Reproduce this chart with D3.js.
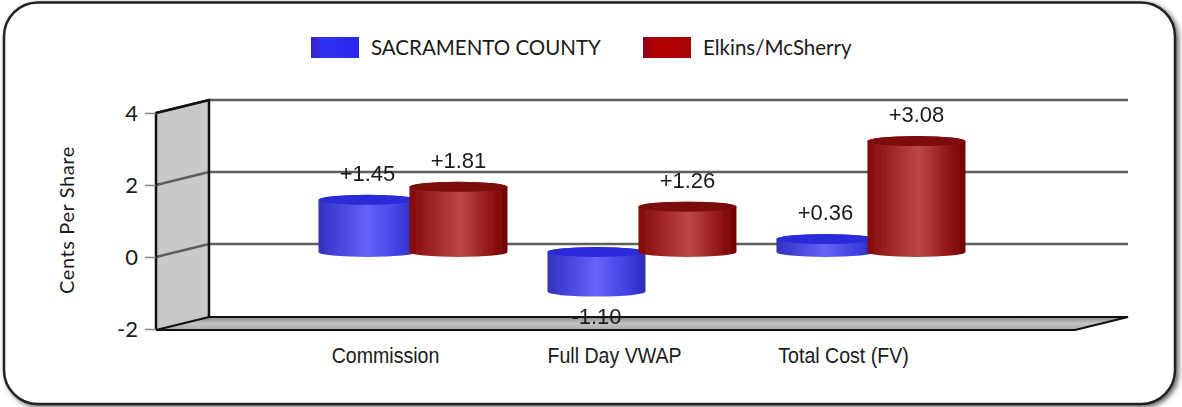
<!DOCTYPE html>
<html>
<head>
<meta charset="utf-8">
<script src="https://cdn.jsdelivr.net/npm/d3@7"></script>
<style>
  html, body { margin: 0; padding: 0; background: #fff; overflow: hidden; }
  text { fill: #1a1a1a; }
  .geo { font-family: Lato, "Open Sans", sans-serif; }
  .arial { font-family: "Liberation Sans", Arial, sans-serif; }
</style>
</head>
<body>
<svg id="chart" width="1182" height="407"></svg>
<script>
// Values
const categories = ['Commission', 'Full Day VWAP', 'Total Cost (FV)'];
const seriesNames = ['SACRAMENTO COUNTY', 'Elkins/McSherry'];
const sacramento = [1.45, -1.10, 0.36];
const elkins = [1.81, 1.26, 3.08];
const yTicks = [-2, 0, 2, 4];

// Reused constants for the fake 3d look
const depthX = 53;
const depthY = -13;
const barW = 98;
const ry = 5;
const floorY = 330;
const frontX = 156;
const rightX = 1128;

const svg = d3.select('#chart');
const defs = svg.append('defs');

const y = d3.scaleLinear().domain([-2, 4]).range([floorY - 1, 113]);
const x0 = d3.scaleBand().domain(categories)
  .range([299, 986]).paddingInner(0.17).paddingOuter(0.085);
const x1 = d3.scalePoint().domain(seriesNames).range([0, 91]);

const makeGradient = (id, stops, vertical) => {
  const g = defs.append('linearGradient').attr('id', id)
    .attr('x1', 0).attr('y1', 0)
    .attr('x2', vertical ? 0 : 1).attr('y2', vertical ? 1 : 0);
  stops.forEach(s => g.append('stop').attr('offset', s[0]).attr('stop-color', s[1]));
};
makeGradient('blueBar', [[0, '#3434b0'], [0.08, '#3838cc'], [0.5, '#6464fa'], [0.85, '#3c3cdc'], [1, '#2c2cb4']]);
makeGradient('redBar', [[0, '#800a0a'], [0.18, '#9a1e1e'], [0.52, '#bb4848'], [0.82, '#941616'], [1, '#700000']]);
makeGradient('blueSwatch', [[0, '#3a20c8'], [0.25, '#3030f0'], [1, '#2828ee']]);
makeGradient('redSwatch', [[0, '#8a0020'], [0.25, '#b00000'], [1, '#a80404']]);
makeGradient('floorFill', [[0, '#8c8c8c'], [0.5, '#c4c4c4'], [1, '#a8a8a8']], true);

const shadow = defs.append('filter').attr('id', 'panelShadow')
  .attr('x', '-3%').attr('y', '-5%').attr('width', '106%').attr('height', '110%');
shadow.append('feDropShadow').attr('dx', 2.5).attr('dy', 2)
  .attr('stdDeviation', 2.5).attr('flood-color', '#444').attr('flood-opacity', 0.85);

// The source picture is a little soft, bars get a small blur
defs.append('filter').attr('id', 'soft')
  .append('feGaussianBlur').attr('stdDeviation', 0.6);

// Panel
svg.append('rect')
  .attr('x', 4).attr('y', 2.5).attr('width', 1171).attr('height', 401.5)
  .attr('rx', 34).attr('ry', 34)
  .attr('fill', '#fff').attr('stroke', '#222').attr('stroke-width', 2.5)
  .attr('filter', 'url(#panelShadow)');

// Left wall and floor
const backX = frontX + depthX;
const wall = [[frontX, y(4)], [backX, y(4) + depthY], [backX, floorY + depthY], [frontX, floorY]];
const floor = [[frontX, floorY], [backX, floorY + depthY], [rightX, floorY + depthY], [rightX - depthX, floorY]];
const linePts = d3.line();

svg.append('path').attr('d', linePts(wall) + 'Z').attr('fill', '#c9c9c9').attr('stroke', 'none');
svg.append('path').attr('d', linePts(floor) + 'Z').attr('fill', 'url(#floorFill)').attr('stroke', 'none');

// Grid lines, front edge to back wall and across
yTicks.filter(t => t > -2).forEach(t => {
  svg.append('path')
    .attr('d', linePts([[frontX, y(t)], [backX, y(t) + depthY], [rightX, y(t) + depthY]]))
    .attr('fill', 'none').attr('stroke', '#5e5e5e').attr('stroke-width', 2.4);
});

svg.append('path').attr('d', linePts([[frontX, floorY], [frontX, y(4)], [backX, y(4) + depthY], [backX, floorY + depthY]]))
  .attr('fill', 'none').attr('stroke', '#111').attr('stroke-width', 2.5);
svg.append('path').attr('d', linePts(floor) + 'Z')
  .attr('fill', 'none').attr('stroke', '#111').attr('stroke-width', 2.2);

// Y axis
const yAxis = svg.append('g')
  .attr('transform', `translate(${frontX},0)`)
  .call(d3.axisLeft(y).tickValues(yTicks).tickFormat(String).tickSize(11).tickPadding(7));
yAxis.select('.domain').remove();
yAxis.selectAll('.tick line').attr('stroke', '#888').attr('stroke-width', 1.5);
yAxis.selectAll('.tick text').attr('font-size', 22).attr('font-family', 'Lato, sans-serif').attr('fill', '#1a1a1a');

svg.append('text').attr('class', 'geo')
  .attr('transform', 'translate(74,220) rotate(-90)')
  .attr('text-anchor', 'middle').attr('font-size', 20).attr('letter-spacing', 0.6)
  .text('Cents Per Share');

// X axis labels sit under the front of the floor, squeezed like a narrow face
const xAxis = svg.append('g')
  .attr('transform', `translate(-28,${floorY + 15})`)
  .call(d3.axisBottom(x0).tickSize(0).tickPadding(3));
xAxis.select('.domain').remove();
xAxis.selectAll('.tick text')
  .attr('font-family', '"Liberation Sans", sans-serif')
  .attr('font-size', 21.5).attr('fill', '#1a1a1a')
  .attr('transform', 'scale(0.91,1)');

// Bars, drawn group by group with the later series on top
const baseY = y(0) - 5;
const unit = y(0) - y(1);
const rows = categories.map((c, i) => [
  { cat: c, name: seriesNames[0], v: sacramento[i], fill: 'url(#blueBar)', top: '#2a2ad8' },
  { cat: c, name: seriesNames[1], v: elkins[i], fill: 'url(#redBar)', top: '#7c0a0a' },
]).flat();

const cyl = svg.append('g').attr('filter', 'url(#soft)').selectAll('g').data(rows).join('g')
  .attr('transform', d => `translate(${x0(d.cat) + x1(d.name)},0)`);

cyl.append('path')
  .attr('fill', d => d.fill)
  .attr('d', d => {
    const topY = baseY - d.v * unit;
    const upper = Math.min(topY, baseY);
    const lower = Math.max(topY, baseY);
    return `M0,${upper}L0,${lower}A${barW / 2},${ry} 0 0 0 ${barW},${lower}L${barW},${upper}A${barW / 2},${ry} 0 0 0 0,${upper}Z`;
  });
cyl.append('ellipse')
  .attr('cx', barW / 2).attr('rx', barW / 2).attr('ry', ry)
  .attr('cy', d => Math.min(baseY - d.v * unit, baseY))
  .attr('fill', d => d.top);

// Value labels
const fmt = v => (v > 0 ? '+' : '') + v.toFixed(2);
svg.append('g').selectAll('text').data(rows).join('text')
  .attr('class', 'arial')
  .attr('font-size', 22)
  .attr('text-anchor', 'middle')
  .attr('x', d => x0(d.cat) + x1(d.name) + barW / 2)
  .attr('y', d => d.v < 0 ? baseY - d.v * unit + 32 : baseY - d.v * unit - 19)
  .text(d => fmt(d.v));

// Legend
const legendX = d3.scaleOrdinal().domain(seriesNames).range([311, 643]);
const legend = svg.append('g').selectAll('g').data(seriesNames).join('g')
  .attr('transform', d => `translate(${legendX(d)},37)`);
legend.append('rect').attr('width', 48).attr('height', 21)
  .attr('fill', (d, i) => i === 0 ? 'url(#blueSwatch)' : 'url(#redSwatch)');
legend.append('text').attr('class', 'geo')
  .attr('x', 60).attr('y', 18).attr('font-size', 20.5)
  .text(d => d);
</script>
</body>
</html>
